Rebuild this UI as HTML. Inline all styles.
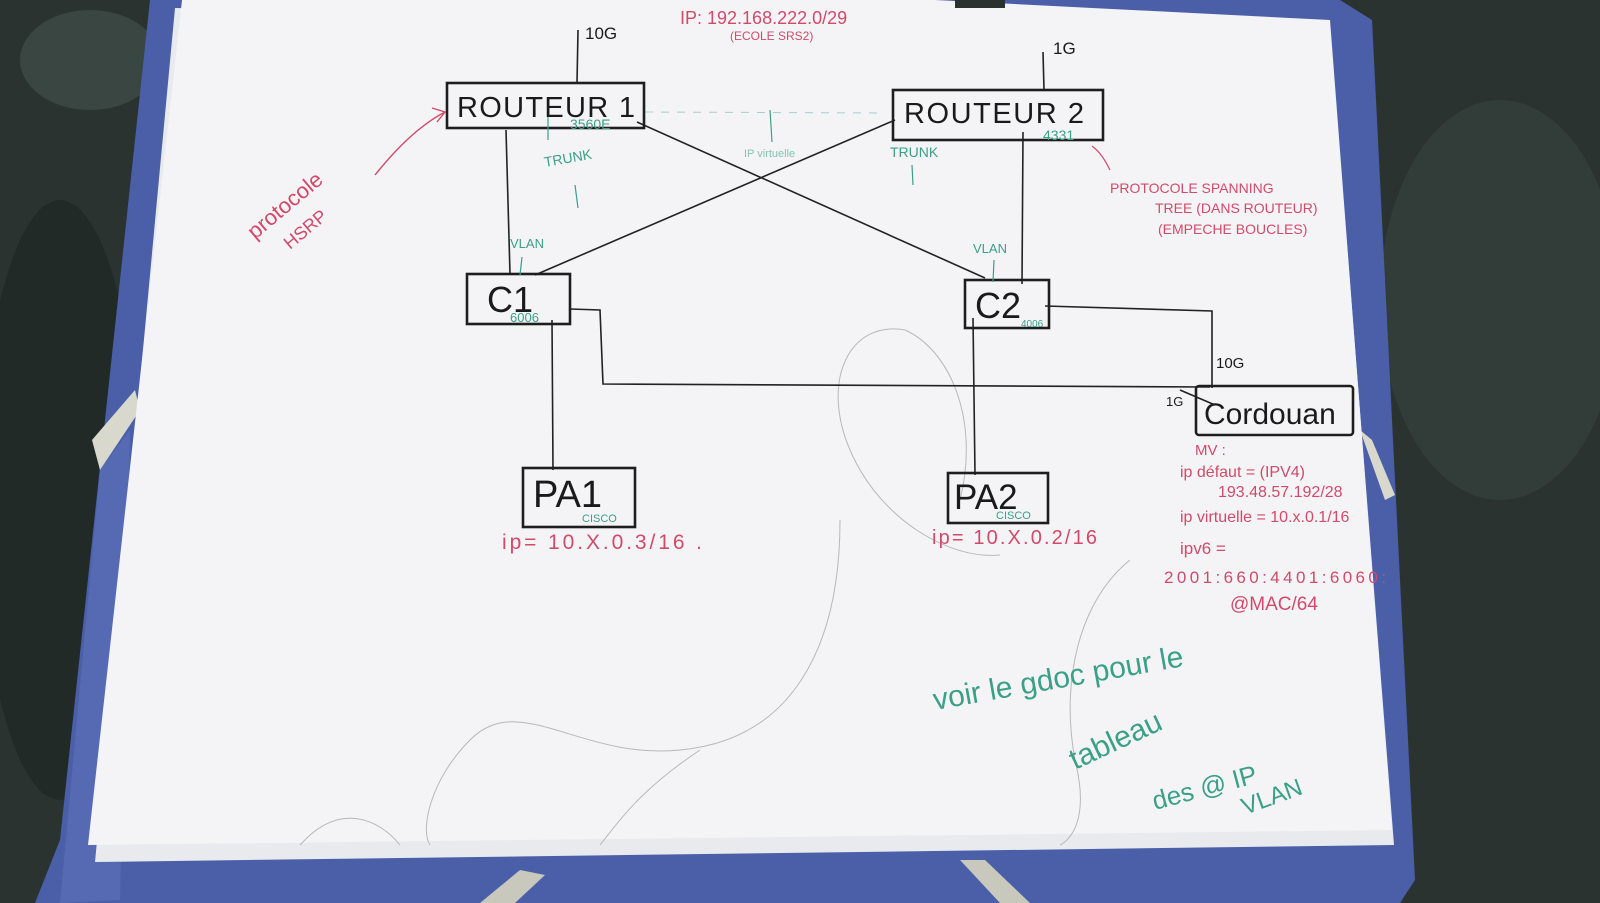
<!DOCTYPE html>
<html><head><meta charset="utf-8"><style>
html,body{margin:0;padding:0;width:1600px;height:903px;overflow:hidden;background:#2c3633}
svg{display:block}
text{font-family:"Liberation Sans",sans-serif}
.k{fill:#1a1a1a}
.p{fill:#d24a6a}
.g{fill:#3aa087}
</style></head><body>
<svg width="1600" height="903" viewBox="0 0 1600 903" xmlns="http://www.w3.org/2000/svg">
<rect width="1600" height="903" fill="#2a3330"/>
<ellipse cx="1500" cy="300" rx="120" ry="200" fill="#323d39"/>
<ellipse cx="60" cy="500" rx="80" ry="300" fill="#222a28"/>
<ellipse cx="90" cy="60" rx="70" ry="50" fill="#3a4642"/>
<!-- blue folder -->
<polygon points="150,0 1340,0 1372,20 1415,880 1400,903 35,903 60,840" fill="#4a5fa8"/>
<polygon points="100,470 130,430 120,900 60,903" fill="#5a6fb8" opacity="0.7"/>
<!-- elastic bands -->
<polygon points="92,440 135,390 140,410 100,470" fill="#d8d8cc"/>
<polygon points="1360,430 1372,440 1395,495 1385,500" fill="#d8d8cc"/>
<polygon points="480,903 520,870 545,875 515,903" fill="#c8c8bc"/>
<polygon points="960,860 985,860 1030,903 1000,903" fill="#c8c8bc"/>
<!-- papers -->
<polygon points="175,8 1330,28 1394,845 95,862" fill="#e9eaee"/>
<polygon points="182,0 935,0 1330,20 1392,830 88,845" fill="#f4f4f6"/>
<rect x="955" y="0" width="50" height="8" fill="#2a3230"/>
<!-- pencil scribbles -->
<g fill="none" stroke="#b8b8bc" stroke-width="1">
<path d="M905,330 C850,320 820,380 850,450 C880,520 950,560 1000,555"/>
<path d="M905,330 C950,350 980,420 960,500"/>
<path d="M840,520 C840,650 790,740 680,750 C580,760 520,690 470,740 C430,780 420,830 430,845"/>
<path d="M1130,560 C1080,600 1060,680 1075,760 C1090,820 1070,840 1060,845"/>
<path d="M700,750 C640,790 620,820 600,845"/>
<path d="M300,845 C340,800 380,820 400,845"/>
</g>
<!-- connectors -->
<g stroke="#222" stroke-width="1.6" fill="none">
<line x1="578" y1="30" x2="577" y2="83"/>
<line x1="1043" y1="52" x2="1044" y2="90"/>
<line x1="506" y1="130" x2="510" y2="274"/>
<line x1="637" y1="122" x2="985" y2="278"/>
<line x1="895" y1="120" x2="535" y2="275"/>
<line x1="1023" y1="132" x2="1022" y2="284"/>
<line x1="552" y1="320" x2="553" y2="470"/>
<line x1="973" y1="318" x2="975" y2="475"/>
<path d="M570,309 L600,310 L603,384 L1210,387"/>
<path d="M1045,306 L1212,311 L1212,388"/>
<line x1="1180" y1="390" x2="1215" y2="405"/>
</g>
<g stroke="#5aa"  stroke-width="1" fill="none" stroke-dasharray="8 8" opacity="0.5">
<line x1="645" y1="112" x2="885" y2="113"/>
</g>
<!-- boxes -->
<g stroke="#1e1e1e" stroke-width="2.6" fill="none">
<rect x="447" y="83" width="197" height="45"/>
<rect x="893" y="90" width="210" height="50"/>
<rect x="467" y="274" width="103" height="50"/>
<rect x="965" y="280" width="84" height="48"/>
<rect x="1196" y="386" width="157" height="49" rx="3"/>
<rect x="523" y="468" width="112" height="59"/>
<rect x="948" y="473" width="100" height="50"/>
</g>
<!-- node labels -->
<text x="457" y="117" class="k" font-size="29" textLength="178">ROUTEUR 1</text>
<text x="904" y="123" class="k" font-size="29" textLength="180">ROUTEUR 2</text>
<text x="487" y="312" class="k" font-size="36">C1</text>
<text x="975" y="318" class="k" font-size="36">C2</text>
<text x="1204" y="424" class="k" font-size="30">Cordouan</text>
<text x="533" y="507" class="k" font-size="38">PA1</text>
<text x="954" y="509" class="k" font-size="35">PA2</text>
<!-- black small labels -->
<text x="585" y="39" class="k" font-size="17">10G</text>
<text x="1053" y="54" class="k" font-size="17">1G</text>
<text x="1216" y="368" class="k" font-size="15">10G</text>
<text x="1166" y="406" class="k" font-size="13">1G</text>
<!-- green labels -->
<text x="570" y="129" class="g" font-size="14">3560E</text>
<text x="1043" y="140" class="g" font-size="14">4331</text>
<text x="545" y="167" class="g" font-size="14" transform="rotate(-10 545 167)">TRUNK</text>
<text x="890" y="157" class="g" font-size="14">TRUNK</text>
<text x="744" y="157" class="g" font-size="11" opacity="0.6">IP virtuelle</text>
<text x="510" y="248" class="g" font-size="13">VLAN</text>
<text x="973" y="253" class="g" font-size="13">VLAN</text>
<text x="510" y="322" class="g" font-size="13">6006</text>
<text x="1021" y="327" class="g" font-size="10">4006</text>
<text x="582" y="522" class="g" font-size="11">CISCO</text>
<text x="996" y="519" class="g" font-size="11">CISCO</text>
<text x="935" y="710" class="g" font-size="30" transform="rotate(-10 935 710)">voir le gdoc pour le</text>
<text x="1075" y="770" class="g" font-size="30" transform="rotate(-25 1075 770)">tableau</text>
<text x="1155" y="810" class="g" font-size="26" transform="rotate(-15 1155 810)">des @ IP</text>
<text x="1245" y="815" class="g" font-size="24" transform="rotate(-20 1245 815)">VLAN</text>
<g stroke="#3aa087" stroke-width="1.2">
<line x1="548" y1="117" x2="548" y2="140"/><line x1="575" y1="185" x2="578" y2="208"/>
<line x1="912" y1="165" x2="913" y2="185"/><line x1="522" y1="257" x2="520" y2="275"/>
<line x1="994" y1="260" x2="993" y2="282"/><line x1="770" y1="110" x2="772" y2="142"/>
</g>
<!-- pink labels -->
<text x="680" y="24" class="p" font-size="18">IP: 192.168.222.0/29</text>
<text x="730" y="40" class="p" font-size="12">(ECOLE SRS2)</text>
<text x="255" y="240" class="p" font-size="22" transform="rotate(-40 255 240)">protocole</text>
<text x="290" y="250" class="p" font-size="18" transform="rotate(-40 290 250)">HSRP</text>
<path d="M375,175 C395,150 420,125 445,112" stroke="#d24a6a" fill="none" stroke-width="1.4"/>
<path d="M432,108 L445,112 L437,122" stroke="#d24a6a" fill="none" stroke-width="1.4"/>
<text x="1110" y="193" class="p" font-size="14">PROTOCOLE SPANNING</text>
<text x="1155" y="213" class="p" font-size="14">TREE (DANS ROUTEUR)</text>
<text x="1158" y="234" class="p" font-size="14">(EMPECHE BOUCLES)</text>
<path d="M1110,170 C1105,160 1100,152 1092,146" stroke="#d24a6a" fill="none" stroke-width="1.2"/>
<text x="502" y="549" class="p" font-size="21" textLength="200">ip= 10.X.0.3/16 .</text>
<text x="932" y="544" class="p" font-size="20" textLength="165">ip= 10.X.0.2/16</text>
<text x="1195" y="455" class="p" font-size="15">MV :</text>
<text x="1180" y="477" class="p" font-size="16">ip défaut = (IPV4)</text>
<text x="1218" y="497" class="p" font-size="16">193.48.57.192/28</text>
<text x="1180" y="522" class="p" font-size="16">ip virtuelle = 10.x.0.1/16</text>
<text x="1180" y="554" class="p" font-size="17">ipv6 =</text>
<text x="1164" y="583" class="p" font-size="17" textLength="222">2001:660:4401:6060:</text>
<text x="1230" y="610" class="p" font-size="19">@MAC/64</text>
</svg>
</body></html>
